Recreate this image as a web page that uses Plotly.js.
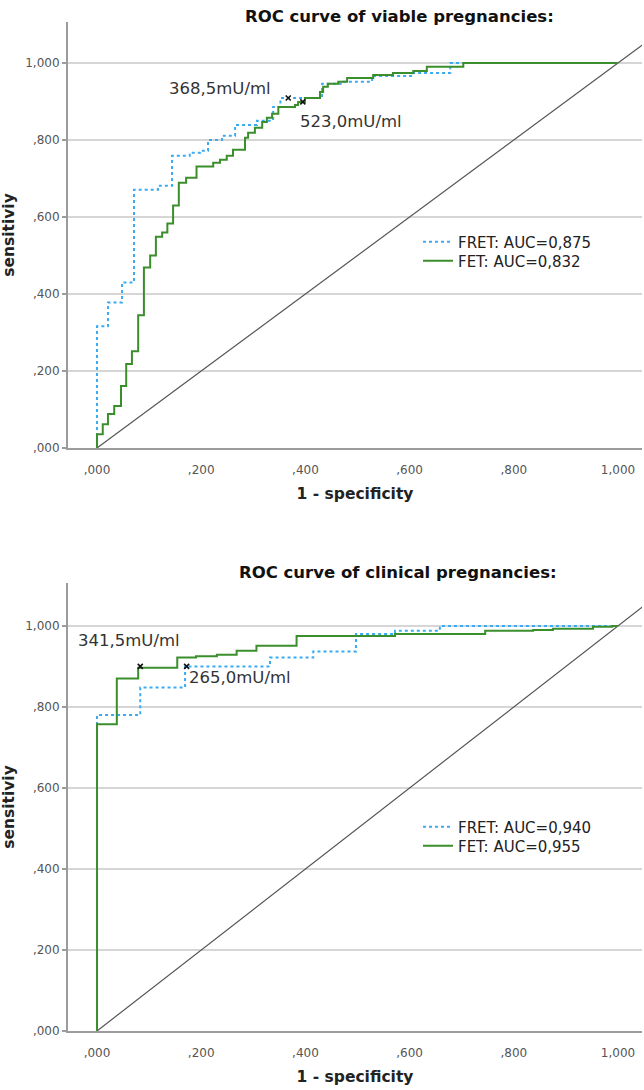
<!DOCTYPE html>
<html>
<head>
<meta charset="utf-8">
<script src="https://cdn.plot.ly/plotly-3.0.1.min.js"></script>
<style>html,body{margin:0;padding:0;background:#fff;}#chart{width:644px;height:1090px;}</style>
</head>
<body>
<div id="chart"></div>
<script>
// ---------- data ----------
const tickVals = [0, 0.2, 0.4, 0.6, 0.8, 1.0];
const tickText = [",000", ",200", ",400", ",600", ",800", "1,000"];
const refLine = [0, 1.05];

// Top chart: viable pregnancies
const viableFretX = [0,0,0.021,0.048,0.071,0.117,0.144,0.178,0.198,0.213,0.24,0.265,0.307,0.338,0.352,0.432,0.472,0.528,0.607,0.678,1.0];
const viableFretY = [0,0.316,0.378,0.43,0.671,0.681,0.759,0.767,0.772,0.80,0.811,0.839,0.85,0.886,0.909,0.946,0.951,0.966,0.974,1.0,1.0];
const viableFetX = [0,0,0.011,0.021,0.033,0.046,0.056,0.067,0.079,0.09,0.102,0.113,0.125,0.135,0.146,0.157,0.171,0.191,0.223,0.236,0.249,0.261,0.284,0.29,0.303,0.317,0.326,0.336,0.348,0.38,0.386,0.399,0.428,0.434,0.443,0.463,0.48,0.53,0.568,0.607,0.633,0.703,1.0];
const viableFetY = [0,0.036,0.062,0.088,0.109,0.161,0.218,0.251,0.345,0.469,0.5,0.549,0.56,0.583,0.63,0.689,0.702,0.731,0.741,0.749,0.759,0.775,0.806,0.819,0.832,0.847,0.858,0.868,0.886,0.891,0.899,0.909,0.925,0.938,0.946,0.951,0.961,0.969,0.974,0.979,0.99,1.0,1.0];
const viableCutX = [0.367, 0.395];
const viableCutY = [0.909, 0.899];
const viableCutLabels = ["368,5mU/ml", "523,0mU/ml"];
const viableLegend = ["FRET: AUC=0,875", "FET: AUC=0,832"];

// Bottom chart: clinical pregnancies
const clinFretX = [0,0,0.083,0.169,0.332,0.415,0.497,0.572,0.658,1.0];
const clinFretY = [0,0.78,0.848,0.9,0.922,0.937,0.98,0.988,1.0,1.0];
const clinFetX = [0,0,0.038,0.079,0.154,0.19,0.23,0.268,0.306,0.383,0.572,0.745,0.837,0.875,0.952,0.989,1.0];
const clinFetY = [0,0.757,0.87,0.897,0.922,0.925,0.929,0.939,0.951,0.975,0.98,0.988,0.99,0.993,0.998,1.0,1.0];
const clinCutX = [0.083, 0.172];
const clinCutY = [0.9, 0.9];
const clinCutLabels = ["341,5mU/ml", "265,0mU/ml"];
const clinLegend = ["FRET: AUC=0,940", "FET: AUC=0,955"];

const titles = ["ROC curve of viable pregnancies:", "ROC curve of clinical pregnancies:"];

// ---------- styling ----------
const FONT = "DejaVu Sans, Arial, sans-serif";
const BLUE = "#3aaaf2";
const GREEN = "#3b8e2c";
const W = 644, H = 1090;
const px2x = p => p / W;
const px2y = p => 1 - p / H;

function roc(x, y, name, color, dash, xa, ya, leg) {
  return {x: x, y: y, type: "scatter", mode: "lines", name: name,
    line: {color: color, width: 2, dash: dash, shape: "hv"},
    xaxis: xa, yaxis: ya, legend: leg, hoverinfo: "skip"};
}
function diag(xa, ya) {
  return {x: refLine, y: refLine, type: "scatter", mode: "lines", showlegend: false,
    line: {color: "#555555", width: 1.2}, xaxis: xa, yaxis: ya, hoverinfo: "skip"};
}
function cuts(x, y, xa, ya) {
  return {x: x, y: y, type: "scatter", mode: "markers", showlegend: false,
    marker: {symbol: "x-thin-open", size: 5, color: "#111", line: {color: "#111", width: 1.6}},
    xaxis: xa, yaxis: ya, hoverinfo: "skip"};
}

const data = [
  diag("x", "y"),
  roc(viableFretX, viableFretY, viableLegend[0], BLUE, "dot", "x", "y", "legend"),
  roc(viableFetX, viableFetY, viableLegend[1], GREEN, "solid", "x", "y", "legend2"),
  cuts(viableCutX, viableCutY, "x", "y"),
  diag("x2", "y2"),
  roc(clinFretX, clinFretY, clinLegend[0], BLUE, "dot", "x2", "y2", "legend3"),
  roc(clinFetX, clinFetY, clinLegend[1], GREEN, "solid", "x2", "y2", "legend4"),
  cuts(clinCutX, clinCutY, "x2", "y2")
];

function xAxis(anchor) {
  return {anchor: anchor, domain: [px2x(68), px2x(642)], range: [-0.0557, 1.046],
    tickmode: "array", tickvals: tickVals, ticktext: tickText,
    showgrid: false, zeroline: false, showline: true, linecolor: "#9c9c9c", linewidth: 2,
    ticks: "", ticklabelstandoff: 10,
    tickfont: {family: FONT, size: 12, color: "#555"},
    title: {text: "1 - specificity", standoff: 12, font: {family: FONT, size: 15.5, color: "#222", weight: 700}}};
}
function yAxis(anchor, top, bottom, rng) {
  return {anchor: anchor, domain: [px2y(bottom), px2y(top)], range: [0, rng],
    tickmode: "array", tickvals: tickVals, ticktext: tickText,
    showgrid: true, gridcolor: "#d6d6d6", gridwidth: 1.5, zeroline: false,
    showline: true, linecolor: "#9c9c9c", linewidth: 2,
    ticks: "outside", ticklen: 4, tickcolor: "#9c9c9c", tickwidth: 1.5,
    tickfont: {family: FONT, size: 12, color: "#555"},
    title: {text: "sensitiviy", standoff: 7, font: {family: FONT, size: 15.5, color: "#222", weight: 700}}};
}
function leg(yPx) {
  return {x: px2x(418), y: px2y(yPx), xanchor: "left", yanchor: "middle", bgcolor: "rgba(0,0,0,0)",
    itemwidth: 30, font: {family: FONT, size: 15, color: "#222"}};
}

const annFont = {family: FONT, size: 16.5, color: "#333"};
const titleFont = {family: FONT, size: 16.5, color: "#111", weight: 700};
const layout = {
  width: W, height: H, margin: {l: 0, r: 0, t: 0, b: 0},
  paper_bgcolor: "#fff", plot_bgcolor: "#fff",
  showlegend: true,
  xaxis: xAxis("y"),
  yaxis: yAxis("x", 22, 448, 1.1065),
  xaxis2: xAxis("y2"),
  yaxis2: yAxis("x2", 583, 1031, 1.106),
  legend: leg(242), legend2: leg(261), legend3: leg(827), legend4: leg(846),
  annotations: [
    {text: titles[0], xref: "paper", yref: "paper", x: px2x(400), y: px2y(17), yanchor: "middle", showarrow: false, font: titleFont},
    {text: titles[1], xref: "paper", yref: "paper", x: px2x(398), y: px2y(572), yanchor: "middle", showarrow: false, font: titleFont},
    {text: viableCutLabels[0], xref: "x", yref: "y", x: 0.236, y: 0.935, showarrow: false, font: annFont},
    {text: viableCutLabels[1], xref: "x", yref: "y", x: 0.488, y: 0.847, showarrow: false, font: annFont},
    {text: clinCutLabels[0], xref: "x2", yref: "y2", x: 0.062, y: 0.965, showarrow: false, font: annFont},
    {text: clinCutLabels[1], xref: "x2", yref: "y2", x: 0.274, y: 0.872, showarrow: false, font: annFont}
  ]
};

Plotly.newPlot("chart", data, layout, {staticPlot: true, displayModeBar: false});
</script>
</body>
</html>
